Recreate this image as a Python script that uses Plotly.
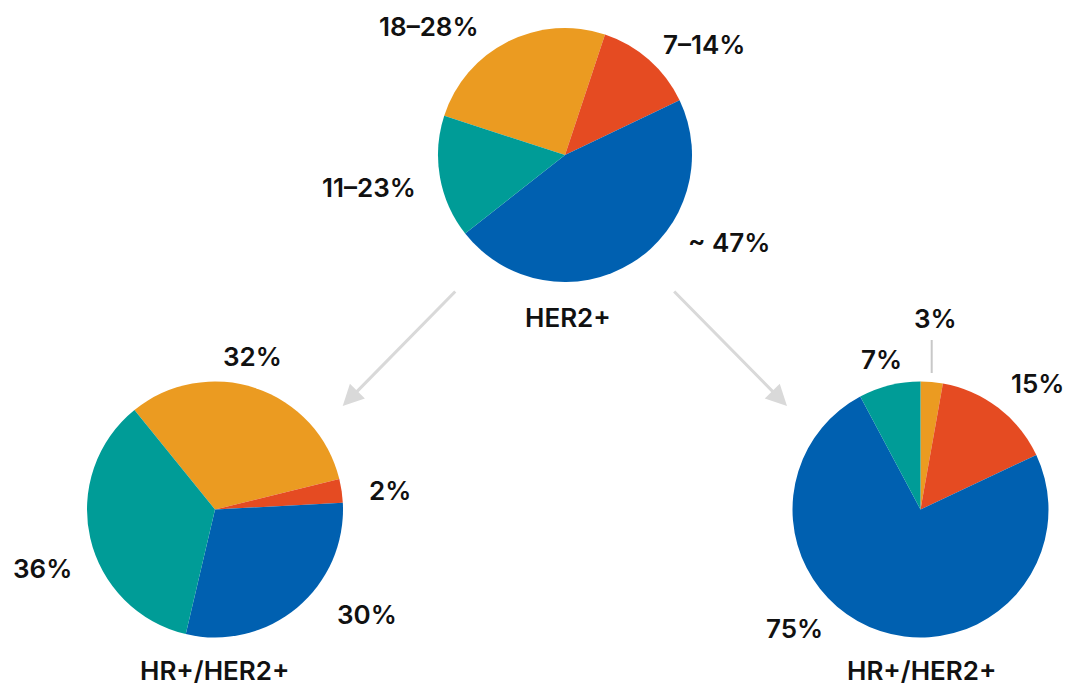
import plotly.graph_objects as go

W, H = 1068, 686

categories = ["A", "B", "C", "D"]  # orange, red, blue, teal
colors = ["#EB9B21", "#E54B22", "#0060B0", "#009C97"]

top_values = [25.1, 12.8, 46.5, 15.6]
top_labels = ["18–28%", "7–14%", "~ 47%", "11–23%"]
left_values = [32.0, 3.0, 29.5, 35.5]
left_labels = ["32%", "2%", "30%", "36%"]
right_values = [2.8, 15.2, 74.2, 7.8]
right_labels = ["3%", "15%", "75%", "7%"]
titles = ["HER2+", "HR+/HER2+", "HR+/HER2+"]


def px(x, y):
    return x / W, 1 - y / H


def dom(cx, cy, r):
    return dict(x=[(cx - r) / W, (cx + r) / W], y=[(H - cy - r) / H, (H - cy + r) / H])


fig = go.Figure()
pies = [
    (top_values, dom(565, 155, 127), 288),
    (left_values, dom(215, 509.5, 128), 321),
    (right_values, dom(920.5, 509.5, 128), 0),
]
for vals, d, rot in pies:
    fig.add_trace(go.Pie(
        labels=categories, values=vals, sort=False, direction="clockwise",
        rotation=rot, domain=d, textinfo="none", hoverinfo="skip",
        marker=dict(colors=colors, line=dict(width=0)), showlegend=False,
    ))

font = dict(family="Inter", size=26, color="#111111", weight=600)

label_pos = [
    (top_labels, [(429, 27), (704, 45), (729, 243), (369, 188)]),
    (left_labels, [(252, 356), (390, 490), (367, 614), (42, 568)]),
    (right_labels, [(935, 318), (1037, 383), (794, 628), (881, 360)]),
]
annotations = []
for labs, poss in label_pos:
    for t, (x, y) in zip(labs, poss):
        xx, yy = px(x, y)
        annotations.append(dict(text=t, x=xx, y=yy, xref="paper", yref="paper",
                                showarrow=False, font=font, xanchor="center", yanchor="middle"))

for t, (x, y) in zip(titles, [(568, 317), (214, 670), (921, 670)]):
    xx, yy = px(x, y)
    annotations.append(dict(text=t, x=xx, y=yy, xref="paper", yref="paper",
                            showarrow=False, font=font, xanchor="center", yanchor="middle"))

# arrows
for (tx, ty), (sx, sy) in [((342.7, 406), (456.7, 290)), ((787, 406), (672.7, 290))]:
    xx, yy = px(tx, ty)
    annotations.append(dict(text="", x=xx, y=yy, xref="paper", yref="paper",
                            ax=sx - tx, ay=sy - ty, showarrow=True, arrowhead=2,
                            arrowsize=1.4, arrowwidth=3, arrowcolor="#D9D9D9", standoff=0))

x0, y0 = px(931.7, 340)
x1, y1 = px(931.7, 373)
shapes = [dict(type="line", xref="paper", yref="paper", x0=x0, y0=y0, x1=x1, y1=y1,
               line=dict(color="#C8C8C8", width=2))]

fig.update_layout(
    width=W, height=H, margin=dict(l=0, r=0, t=0, b=0),
    paper_bgcolor="white", plot_bgcolor="white",
    annotations=annotations, shapes=shapes,
)

fig.write_html("out.html", config={"displayModeBar": False},
               post_script="document.body.style.margin='0';document.body.style.overflow='hidden';")
